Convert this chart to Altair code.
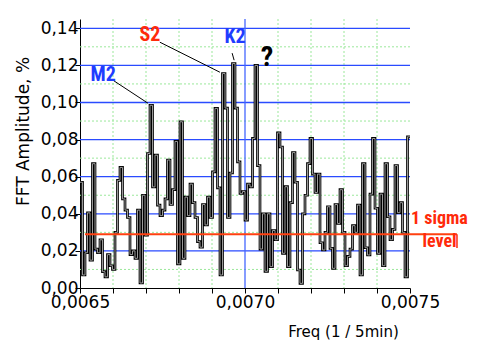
import altair as alt
import pandas as pd
import numpy as np

# FFT amplitude (%) per frequency bin
amps = [0.057, 0.007, 0.019, 0.0405, 0.015, 0.067, 0.021, 0.019, 0.026, 0.0088,
        0.006, 0.018, 0.012, 0.010, 0.030, 0.058, 0.065, 0.048, 0.042, 0.038,
        0.018, 0.020, 0.016, 0.042, 0.0027, 0.050, 0.0285,
        0.0725, 0.0985, 0.0545, 0.0716, 0.0447, 0.039, 0.042, 0.048, 0.069,
        0.045, 0.053, 0.079, 0.013, 0.0896, 0.016, 0.049, 0.039, 0.056, 0.046,
        0.038, 0.025, 0.022, 0.045, 0.034, 0.049,
        0.038, 0.0626, 0.0968, 0.054, 0.007, 0.1156, 0.097, 0.038, 0.062, 0.121,
        0.097, 0.068, 0.051, 0.052, 0.0366, 0.056, 0.0545, 0.0806, 0.120, 0.066,
        0.021, 0.040, 0.009, 0.040, 0.0115, 0.031, 0.026,
        0.0836, 0.076, 0.0187, 0.0546, 0.0115, 0.046, 0.073, 0.057, 0.0097,
        0.0025, 0.040, 0.050, 0.067, 0.0806, 0.0614, 0.0515, 0.0614, 0.0244,
        0.0205, 0.030, 0.0438, 0.0214, 0.0106, 0.045, 0.0348, 0.053,
        0.030, 0.012, 0.017, 0.021, 0.0336, 0.030, 0.0447, 0.007, 0.067, 0.0217,
        0.0178, 0.0506, 0.0806, 0.043, 0.0187, 0.0506, 0.012, 0.067, 0.0384,
        0.026, 0.0316, 0.066, 0.0406, 0.046, 0.030, 0.006, 0.0815]

f_start, f_end = 0.0065, 0.0075
freqs = list(np.linspace(f_start, f_end, len(amps) + 1))
step_df = pd.DataFrame({"f": freqs, "a": amps + [amps[-1]]})

y_major = [0.02, 0.04, 0.06, 0.08, 0.10, 0.12, 0.14]
y_minor = [0.01, 0.03, 0.05, 0.07, 0.09, 0.11, 0.13]
x_minor = [0.0066, 0.0067, 0.0068, 0.0069, 0.0071, 0.0072, 0.0073, 0.0074]
x_major = [0.0070]
x_ticks = [0.0065, 0.0066, 0.0067, 0.0068, 0.0069, 0.0070, 0.0071, 0.0072,
           0.0073, 0.0074, 0.0075]
y_ticks = [0.0, 0.02, 0.04, 0.06, 0.08, 0.10, 0.12, 0.14]
sigma_level = 0.029

labels = ["M2", "S2", "K2", "?"]
label_f = [0.006570, 0.006712, 0.006970, 0.007067]
label_a = [0.1147, 0.1362, 0.1352, 0.1239]
label_color = ["#1f3cff", "#ff2a0a", "#1f3cff", "#000000"]
label_size = [20, 20, 20, 28]

lead_f1 = [0.006600, 0.006742, 0.006961]
lead_a1 = [0.1120, 0.1325, 0.1266]
lead_f2 = [0.006706, 0.006924, 0.006967]
lead_a2 = [0.0996, 0.1163, 0.1228]

sig_text = ["1 sigma", "level"]
sig_f = [0.0075030, 0.0075894]
sig_a = [0.0372, 0.0248]

FONT = "DejaVu Sans"
NARROW = "Liberation Sans Narrow, Roboto Condensed, DejaVu Sans Condensed, sans-serif"
RED = "#ff2a0a"
xs = alt.Scale(domain=[f_start, f_end], nice=False, zero=False)
ys = alt.Scale(domain=[0, 0.145], nice=False)

x_axis = alt.Axis(
    values=x_ticks,
    labelExpr="round(datum.value*10000) % 5 == 0 ? replace(format(datum.value, '.4f'), '.', ',') : ''",
    grid=False, tickSize=5, tickColor="black", domainColor="black",
    labelFont=FONT, labelFontSize=17, labelColor="black", labelFlush=False,
    labelOverlap=False, labelPadding=1,
    title="Freq (1 / 5min)", titleFont=FONT, titleFontSize=15, titleFontWeight="normal",
    titleColor="black", titleX=263, titleY=43, titleAnchor="middle",
    titleBaseline="middle", titleAlign="center")
y_axis = alt.Axis(
    values=y_ticks,
    labelExpr="replace(format(datum.value, '.2f'), '.', ',')",
    grid=False, tickSize=5, tickColor="black", domainColor="black",
    labelFont=FONT, labelFontSize=17, labelColor="black", labelPadding=-3,
    labelOverlap=False, labelFlush=False,
    title="FFT Amplitude, %", titleFont=FONT, titleFontSize=17, titleFontWeight="normal",
    titleColor="black", titleAngle=-90, titleX=-57, titleY=112,
    titleBaseline="middle", titleAlign="center")


def X(field):
    return alt.X(field, scale=xs, axis=x_axis)


def Y(field):
    return alt.Y(field, scale=ys, axis=y_axis)


grid_hmin = alt.Chart(pd.DataFrame({"v": y_minor})).mark_rule(
    color="#9be89b", strokeDash=[2, 2], strokeWidth=1).encode(y=Y("v:Q"))
grid_vmin = alt.Chart(pd.DataFrame({"v": x_minor})).mark_rule(
    color="#9be89b", strokeDash=[2, 2], strokeWidth=1).encode(x=X("v:Q"))
grid_hmaj = alt.Chart(pd.DataFrame({"v": y_major})).mark_rule(
    color="#2a4bff", strokeWidth=1.3).encode(y=Y("v:Q"))
grid_vmaj = alt.Chart(pd.DataFrame({"v": x_major})).mark_rule(
    color="#4466ff", strokeWidth=1.3).encode(x=X("v:Q"))

line_black = alt.Chart(step_df).mark_line(
    interpolate="step-after", color="black", strokeWidth=2.7).encode(x=X("f:Q"), y=Y("a:Q"))
line_gray = alt.Chart(step_df).mark_line(
    interpolate="step-after", color="#999999", strokeWidth=1.0).encode(x=X("f:Q"), y=Y("a:Q"))

sigma = alt.Chart(pd.DataFrame({"a": [sigma_level], "f1": [0.006515], "f2": [0.0076424]})).mark_rule(
    color="#ff4010", strokeWidth=2).encode(y=Y("a:Q"), x=X("f1:Q"), x2="f2:Q")
sigma_tick = alt.Chart(pd.DataFrame({"f": [0.0076424], "a1": [sigma_level], "a2": [0.0215]})).mark_rule(
    color=RED, strokeWidth=1.5).encode(x=X("f:Q"), y=Y("a1:Q"), y2="a2:Q")

lbl_df = pd.DataFrame({"t": labels, "f": label_f, "a": label_a, "c": label_color, "s": label_size})
lbls = alt.Chart(lbl_df).mark_text(font=NARROW, fontWeight="bold", align="center",
                                   baseline="middle").encode(
    x=X("f:Q"), y=Y("a:Q"), text="t:N",
    color=alt.Color("c:N", scale=None), size=alt.Size("s:Q", scale=None))

lead_df = pd.DataFrame({"f1": lead_f1, "a1": lead_a1, "f2": lead_f2, "a2": lead_a2})
leads = alt.Chart(lead_df).mark_rule(color="black", strokeWidth=1).encode(
    x=X("f1:Q"), y=Y("a1:Q"), x2="f2:Q", y2="a2:Q")

sig_df = pd.DataFrame({"t": sig_text, "f": sig_f, "a": sig_a})
sig_txt1 = alt.Chart(sig_df.iloc[[0]]).mark_text(font=NARROW, fontSize=18, fontWeight="bold",
                                                 color=RED, baseline="middle", align="left").encode(
    x=X("f:Q"), y=Y("a:Q"), text="t:N")
sig_txt2 = alt.Chart(sig_df.iloc[[1]]).mark_text(font=NARROW, fontSize=18, fontWeight="bold",
                                                 color=RED, baseline="middle", align="center").encode(
    x=X("f:Q"), y=Y("a:Q"), text="t:N")

chart = alt.layer(
    grid_hmin, grid_vmin, grid_hmaj, grid_vmaj, line_black, line_gray, sigma, sigma_tick,
    leads, lbls, sig_txt1, sig_txt2
).properties(
    width=330, height=269,
    background="white",
    autosize=alt.AutoSizeParams(type="none"),
    padding={"left": 72, "top": 11, "right": 61, "bottom": 53},
).configure_view(stroke=None)

chart.save("out.html", embed_options={"renderer": "svg", "actions": False})
